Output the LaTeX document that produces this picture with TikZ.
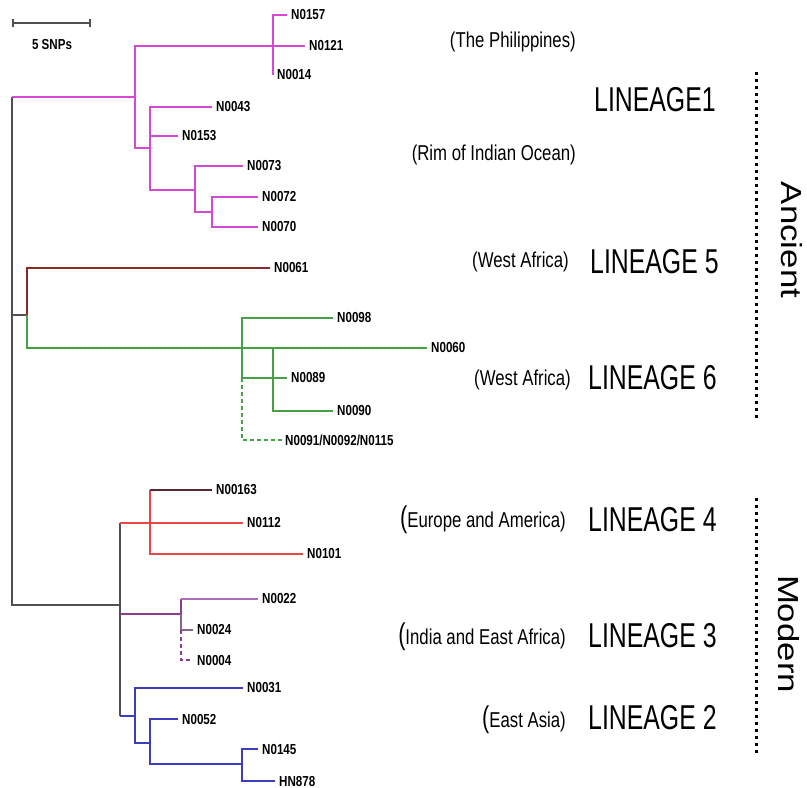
\documentclass[tikz,border=0pt]{standalone}
\usepackage{fontspec}
\setmainfont{Liberation Sans}
\newfontfamily\leaffont[FakeStretch=0.8]{Liberation Sans}
\newfontfamily\regfont[FakeStretch=0.78]{Liberation Sans}
\newfontfamily\linfont[FakeStretch=0.72]{Liberation Sans}
\newfontfamily\grpfont[FakeStretch=1.2]{Liberation Sans}
\definecolor{magc}{RGB}{212,72,212}
\definecolor{darkredc}{RGB}{140,40,40}
\definecolor{greenc}{RGB}{70,160,70}
\definecolor{redc}{RGB}{235,70,70}
\definecolor{darkc}{RGB}{90,40,50}
\definecolor{purpc}{RGB}{140,60,140}
\definecolor{lpurpc}{RGB}{170,110,190}
\definecolor{gpurpc}{RGB}{130,100,140}
\definecolor{bluec}{RGB}{60,60,190}
\definecolor{grayc}{RGB}{80,80,80}
\newcommand{\bigparen}{{\linfont\fontsize{30}{30}\selectfont(}}
\begin{document}
\begin{tikzpicture}[x=1pt,y=-1pt,
  br/.style={line width=1.4pt},
  dsh/.style={line width=1.4pt, dash pattern=on 4pt off 3pt},
  leafnode/.style={anchor=west, inner xsep=4pt, inner ysep=0pt,
    font=\leaffont\bfseries\fontsize{14.5}{15}\selectfont},
  regnode/.style={anchor=east, inner sep=0pt,
    font=\regfont\fontsize{21.5}{22}\selectfont},
  linnode/.style={anchor=west, inner sep=0pt,
    font=\linfont\fontsize{34.5}{35}\selectfont},
  grpnode/.style={rotate=-90, inner sep=0pt,
    font=\grpfont\fontsize{29}{30}\selectfont},
  dotline/.style={line width=3pt, dash pattern=on 3pt off 4pt}]
\useasboundingbox (0,0) rectangle (807,788);
% scale bar
\coordinate (sbL) at (13,23);
\coordinate (sbR) at (90,23);
\draw[line width=1.4pt, grayc] (sbL) -- (sbR);
\draw[line width=1.2pt, grayc] ([yshift=-4pt]sbL) -- ([yshift=4pt]sbL);
\draw[line width=1.2pt, grayc] ([yshift=-4pt]sbR) -- ([yshift=4pt]sbR);
\node[font=\leaffont\bfseries\fontsize{14.5}{15}\selectfont, inner sep=0pt] (snp) at (52,45) {5 SNPs};
% leaves
\node[leafnode] (n0157) at (287,15) {N0157};
\node[leafnode] (n0121) at (305,46) {N0121};
\node[leafnode] (n0014) at (273,75) {N0014};
\node[leafnode] (n0043) at (212,107) {N0043};
\node[leafnode] (n0153) at (178,136) {N0153};
\node[leafnode] (n0073) at (243,166) {N0073};
\node[leafnode] (n0072) at (258,197) {N0072};
\node[leafnode] (n0070) at (258,227) {N0070};
\node[leafnode] (n0061) at (270,268) {N0061};
\node[leafnode] (n0098) at (333,318) {N0098};
\node[leafnode] (n0060) at (427,348) {N0060};
\node[leafnode] (n0089) at (287,378) {N0089};
\node[leafnode] (n0090) at (333,411) {N0090};
\node[leafnode, inner xsep=2pt] (n0091) at (283,440) {N0091/N0092/N0115};
\node[leafnode] (n00163) at (212,490) {N00163};
\node[leafnode] (n0112) at (243,523) {N0112};
\node[leafnode] (n0101) at (303,554) {N0101};
\node[leafnode] (n0022) at (258,599) {N0022};
\node[leafnode] (n0024) at (193,630) {N0024};
\node[leafnode] (n0004) at (193,660) {N0004};
\node[leafnode] (n0031) at (243,688) {N0031};
\node[leafnode] (n0052) at (178,719) {N0052};
\node[leafnode] (n0145) at (258,749) {N0145};
\node[leafnode] (hn878) at (275,781) {HN878};
% internal nodes
\coordinate (R) at (12,315);
\coordinate (A) at (135,97);
\coordinate (A1) at (273,46);
\coordinate (A2) at (150,148);
\coordinate (A3) at (195,190);
\coordinate (A4) at (212,212);
\coordinate (B) at (27,315);
\coordinate (G) at (242,348);
\coordinate (G2) at (273,348);
\coordinate (M) at (120,605);
\coordinate (L4) at (150,523);
\coordinate (L3) at (181,614);
\coordinate (L2) at (135,716);
\coordinate (L2b) at (150,743);
\coordinate (L2c) at (242,764);
% root
\draw[br, grayc] (R |- A) -- (R) |- (M);
\draw[br, grayc] (R) -- (B);
% lineage 1
\draw[br, magc] (R |- A) -- (A);
\draw[br, magc] (A) |- (A1);
\draw[br, magc] (A) |- (A2);
\draw[br, magc] (A1) |- (n0157.west);
\draw[br, magc] (A1) -- (n0121.west);
\draw[br, magc] (A1) |- (n0014.west);
\draw[br, magc] (A2) |- (n0043.west);
\draw[br, magc] (A2) |- (n0153.west);
\draw[br, magc] (A2) |- (A3);
\draw[br, magc] (A3) |- (n0073.west);
\draw[br, magc] (A3) |- (A4);
\draw[br, magc] (A4) |- (n0072.west);
\draw[br, magc] (A4) |- (n0070.west);
% lineage 5 / 6
\draw[br, darkredc] (B) |- (n0061.west);
\draw[br, greenc] (B) |- (G);
\draw[br, greenc] (G) |- (n0098.west);
\draw[br, greenc] (G) -- (G2);
\draw[br, greenc] (G) |- (n0089.west);
\draw[dsh, greenc] (G |- n0089.west) |- (n0091.west);
\draw[br, greenc] (G2) -- (n0060.west);
\draw[br, greenc] (G2) |- (n0090.west);
% modern
\draw[br, grayc] (M |- L4) -- (M |- L2);
\draw[br, redc] (M |- L4) -- (L4);
\draw[br, purpc] (M |- L3) -- (L3);
\draw[br, bluec] (M |- L2) -- (L2);
% lineage 4
\draw[br, redc] (L4) -- (L4 |- n00163.west);
\draw[br, darkc] (L4 |- n00163.west) -- (n00163.west);
\draw[br, redc] (L4) -- (n0112.west);
\draw[br, redc] (L4) |- (n0101.west);
% lineage 3
\draw[br, purpc] (L3) -- (L3 |- n0022.west);
\draw[br, lpurpc] (L3 |- n0022.west) -- (n0022.west);
\draw[br, gpurpc] (L3) |- (n0024.west);
\draw[dsh, purpc] (L3 |- n0024.west) |- (n0004.west);
% lineage 2
\draw[br, bluec] (L2) |- (n0031.west);
\draw[br, bluec] (L2) |- (L2b);
\draw[br, bluec] (L2b) |- (n0052.west);
\draw[br, bluec] (L2b) |- (L2c);
\draw[br, bluec] (L2c) |- (n0145.west);
\draw[br, bluec] (L2c) |- (hn878.west);
% region labels
\node[regnode] (ph) at (576,42) {(The Philippines)};
\node[regnode] (rim) at (576,155) {(Rim of Indian Ocean)};
\node[regnode] (wa5) at (569,262) {(West Africa)};
\node[regnode] (wa6) at (571,380) {(West Africa)};
\node[regnode] (eu) at (566,520) {\bigparen Europe and America)};
\node[regnode] (ind) at (566,637) {\bigparen India and East Africa)};
\node[regnode] (eas) at (566,720) {\bigparen East Asia)};
% lineage labels
\node[linnode] (lin1) at (594,100) {LINEAGE1};
\node[linnode] (lin5) at (590,262) {LINEAGE 5};
\node[linnode] (lin6) at (588,378) {LINEAGE 6};
\node[linnode] (lin4) at (588,520) {LINEAGE 4};
\node[linnode] (lin3) at (588,636) {LINEAGE 3};
\node[linnode] (lin2) at (588,718) {LINEAGE 2};
% groups
\coordinate (anT) at (756,72);
\coordinate (anB) at (756,420);
\coordinate (moT) at (756,498);
\coordinate (moB) at (756,755);
\draw[dotline] (anT) -- (anB);
\draw[dotline] (moT) -- (moB);
\node[grpnode] (anc) at (792,240) {Ancient};
\node[grpnode] (mod) at (789,634) {Modern};
\end{tikzpicture}
\end{document}
